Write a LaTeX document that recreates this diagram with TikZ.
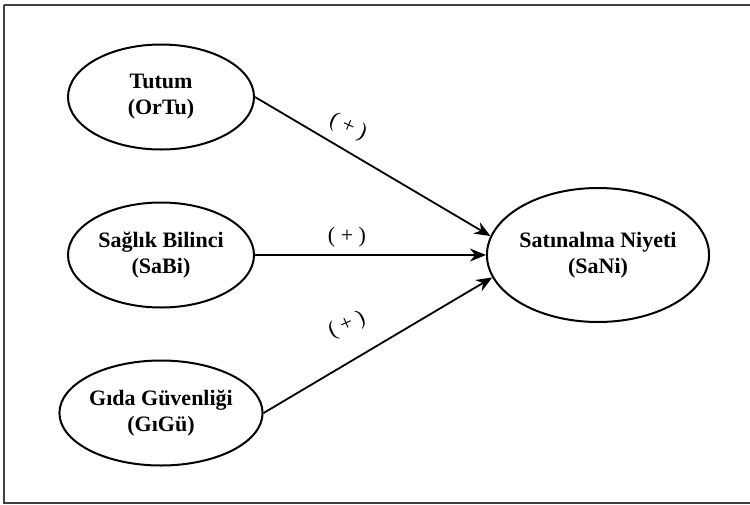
\documentclass[tikz,border=0pt]{standalone}
\usepackage{fontspec}
\setmainfont{Liberation Serif}
\usetikzlibrary{shapes.geometric,arrows.meta}
\begin{document}
\begin{tikzpicture}[x=0.5pt,y=-0.5pt,
% common options for the ellipses:
construct/.style = {ellipse, draw, line width=1pt, align=center,
            font=\fontsize{11}{13}\selectfont\bfseries,
            minimum width=93pt, minimum height=52.5pt, inner sep=0},
% common options for the arrows:
effect/.style = {-{Stealth[length=8pt,width=6.5pt]}, line width=0.9pt},
% signs on the arrows:
sign/.style = {inner sep=0, anchor=center, font=\fontsize{11}{13}\selectfont}]
\useasboundingbox (0,0) rectangle (750,504);
\draw[line width=0.8pt, black!75] (4,5) -- (754,5) (4,5) -- (4,503) -- (754,503);
\node[construct] (OrTu) at (161,97) {Tutum\\(OrTu)};
\node[construct] (SaBi) at (161,255) {Sağlık Bilinci\\(SaBi)};
\node[construct] (GiGu) at (161,413) {Gıda Güvenliği\\(GıGü)};
\node[construct, minimum width=107pt, minimum height=67pt] (SaNi) at (598,255) {Satınalma Niyeti\\(SaNi)};
\draw[effect] (OrTu.east) to (SaNi.170);
\draw[effect] (SaBi.east) to (SaNi.west);
\draw[effect] (GiGu.east) to (SaNi.192);
\node[sign, rotate=-24] (s1) at (348,127) {( + )};
\node[sign] (s2) at (347,237) {( + )};
\node[sign, rotate=24] (s3) at (347,325) {( + )};
\end{tikzpicture}
\end{document}
